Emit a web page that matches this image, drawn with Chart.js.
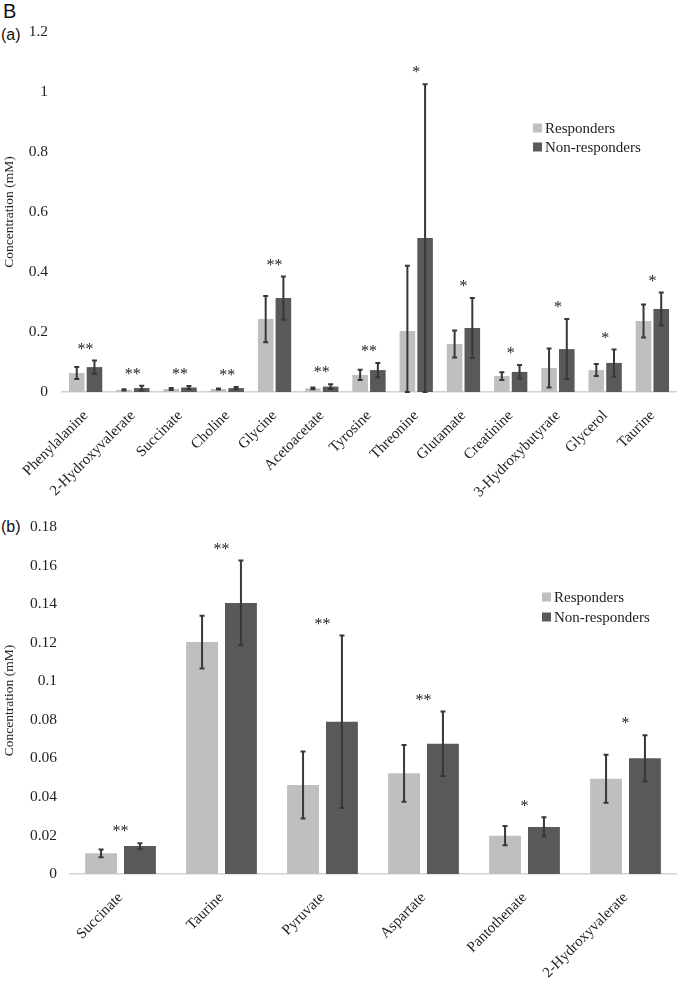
<!DOCTYPE html>
<html>
<head>
<meta charset="utf-8">
<script src="https://cdn.jsdelivr.net/npm/chart.js@4"></script>
<style>
  body { margin: 0; background: #fff; width: 677px; height: 983px; position: relative; overflow: hidden; }
  .wrap { position: absolute; left: 0; width: 677px; }
  .tag { position: absolute; font-family: "Liberation Sans", Arial, sans-serif; color: #111; line-height: 1; }
</style>
</head>
<body>
<div class="tag" style="left:3px; top:1px; font-size:20px;">B</div>
<div class="tag" style="left:1px; top:27px; font-size:16px;">(a)</div>
<div class="tag" style="left:1px; top:519px; font-size:16px;">(b)</div>
<div class="wrap" style="top:0; height:515px;"><canvas id="chartA"></canvas></div>
<div class="wrap" style="top:490px; height:493px;"><canvas id="chartB"></canvas></div>
<script>
// panel (a)
const labelsA = ['Phenylalanine', '2-Hydroxyvalerate', 'Succinate', 'Choline', 'Glycine', 'Acetoacetate',
  'Tyrosine', 'Threonine', 'Glutamate', 'Creatinine', '3-Hydroxybutyrate', 'Glycerol', 'Taurine'];
const respA      = [0.063, 0.007, 0.010, 0.010, 0.243, 0.012, 0.057, 0.203, 0.160, 0.053, 0.080, 0.073, 0.237];
const respErrA   = [0.020, 0.002, 0.003, 0.002, 0.077, 0.003, 0.017, 0.218, 0.045, 0.013, 0.065, 0.020, 0.055];
const nonRespA   = [0.083, 0.013, 0.015, 0.013, 0.313, 0.018, 0.073, 0.513, 0.213, 0.067, 0.143, 0.097, 0.277];
const nonErrA    = [0.022, 0.008, 0.005, 0.004, 0.072, 0.008, 0.024, 0.513, 0.100, 0.023, 0.100, 0.045, 0.055];
const starsA     = ['**', '**', '**', '**', '**', '**', '**', '*', '*', '*', '*', '*', '*'];
const yTicksA    = [0, 0.2, 0.4, 0.6, 0.8, 1, 1.2];

// panel (b)
const labelsB = ['Succinate', 'Taurine', 'Pyruvate', 'Aspartate', 'Pantothenate', '2-Hydroxyvalerate'];
const respB      = [0.0107, 0.1203, 0.0462, 0.0522, 0.0199, 0.0494];
const respErrB   = [0.0020, 0.0137, 0.0174, 0.0147, 0.0050, 0.0124];
const nonRespB   = [0.0145, 0.1406, 0.0790, 0.0676, 0.0244, 0.0600];
const nonErrB    = [0.0015, 0.0220, 0.0447, 0.0167, 0.0050, 0.0120];
const starsB     = ['**', '**', '**', '**', '*', '*'];
const yTicksB    = [0, 0.02, 0.04, 0.06, 0.08, 0.1, 0.12, 0.14, 0.16, 0.18];

const seriesNames = ['Responders', 'Non-responders'];
const colors = ['#bfbfbf', '#595959'];
const serif = "'Liberation Serif', 'Times New Roman', serif";

// error bars, significance stars and the legend box
const extras = {
  id: 'extras',
  afterDatasetsDraw(chart, args, o) {
    const ctx = chart.ctx;
    const x = chart.scales.x, y = chart.scales.y;
    ctx.save();
    ctx.strokeStyle = '#383838';
    ctx.lineWidth = 2;
    chart.data.datasets.forEach((ds, di) => {
      chart.getDatasetMeta(di).data.forEach((bar, i) => {
        const v = ds.data[i], e = ds.errors[i];
        const top = y.getPixelForValue(v + e);
        const bot = y.getPixelForValue(Math.max(0, v - e));
        ctx.beginPath();
        ctx.moveTo(bar.x, top); ctx.lineTo(bar.x, bot);
        ctx.moveTo(bar.x - 2.5, top); ctx.lineTo(bar.x + 2.5, top);
        ctx.moveTo(bar.x - 2.5, bot); ctx.lineTo(bar.x + 2.5, bot);
        ctx.stroke();
      });
    });

    ctx.fillStyle = '#222';
    ctx.font = '16px ' + serif;
    ctx.textAlign = 'center';
    ctx.textBaseline = 'middle';
    o.stars.forEach((s, i) => {
      const hi = Math.max(...chart.data.datasets.map(ds => ds.data[i] + ds.errors[i]));
      ctx.fillText(s, x.getPixelForValue(i), y.getPixelForValue(hi) - 11);
    });

    ctx.font = '15px ' + serif;
    ctx.textAlign = 'left';
    chart.data.datasets.forEach((ds, di) => {
      const ly = o.legendY + di * o.legendGap;
      ctx.fillStyle = ds.backgroundColor;
      ctx.fillRect(o.legendX, ly - 4.5, 9, 9);
      ctx.fillStyle = '#222';
      ctx.fillText(ds.label, o.legendX + 12, ly + 1);
    });
    ctx.restore();
  }
};

function makeChart(id, labels, vals, errs, stars, yTicks, box) {
  return new Chart(document.getElementById(id), {
    type: 'bar',
    data: {
      labels,
      datasets: vals.map((d, k) => ({
        label: seriesNames[k],
        data: d,
        errors: errs[k],
        backgroundColor: colors[k],
        categoryPercentage: box.cat,
        barPercentage: box.bar
      }))
    },
    options: {
      responsive: true,
      maintainAspectRatio: false,
      animation: false,
      layout: { padding: { top: box.top, right: 1, left: 0, bottom: 0 } },
      plugins: {
        legend: { display: false },
        tooltip: { enabled: false },
        extras: { stars, legendX: box.legendX, legendY: box.legendY, legendGap: box.legendGap }
      },
      scales: {
        x: {
          grid: { display: false },
          border: { display: true, color: '#d4d4d4', width: 1.5 },
          ticks: { minRotation: 45, maxRotation: 45, padding: 7, color: '#222', font: { family: serif, size: 15 } },
          afterFit: s => { s.height = box.xh; }
        },
        y: {
          min: 0,
          max: yTicks[yTicks.length - 1],
          grid: { display: false, drawTicks: false },
          border: { display: false },
          afterBuildTicks: s => { s.ticks = yTicks.map(v => ({ value: v })); },
          ticks: {
            padding: box.tickPad,
            color: '#222',
            font: { family: serif, size: 15.5 },
            callback: v => String(v)
          },
          title: {
            display: true,
            text: 'Concentration (mM)',
            color: '#222',
            font: { family: serif, size: 13.5 },
            padding: { top: 1, bottom: 0 }
          },
          afterFit: s => { s.width = box.yw; }
        }
      }
    },
    plugins: [extras]
  });
}

makeChart('chartA', labelsA, [respA, nonRespA], [respErrA, nonErrA], starsA, yTicksA,
  { top: 32, xh: 123, yw: 62, tickPad: 14, cat: 0.75, bar: 0.88, legendX: 533, legendY: 128, legendGap: 19 });

makeChart('chartB', labelsB, [respB, nonRespB], [respErrB, nonErrB], starsB, yTicksB,
  { top: 37, xh: 109, yw: 70, tickPad: 13, cat: 0.77, bar: 0.82, legendX: 542, legendY: 107, legendGap: 20 });
</script>
</body>
</html>
